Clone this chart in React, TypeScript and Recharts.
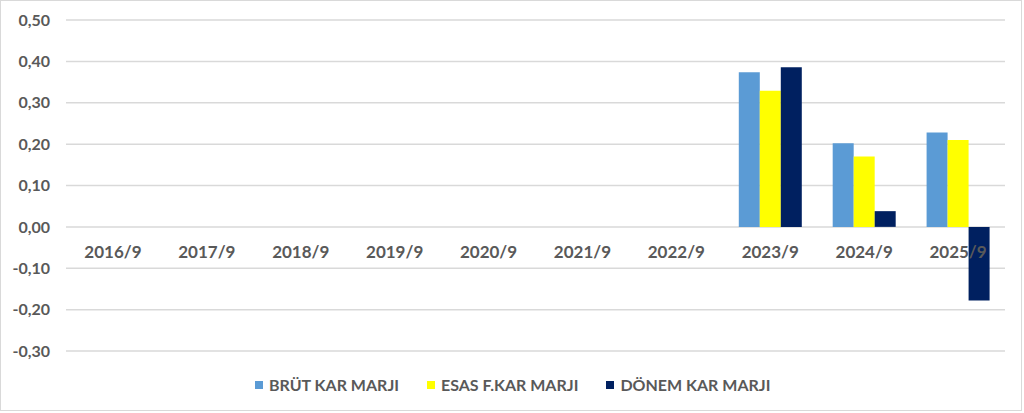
import { Bar, BarChart, CartesianGrid, Legend, XAxis, YAxis } from "recharts";

const periods = ["2016/9", "2017/9", "2018/9", "2019/9", "2020/9", "2021/9", "2022/9", "2023/9", "2024/9", "2025/9"];
const brutKar = [null, null, null, null, null, null, null, 0.374, 0.202, 0.228];
const esasKar = [null, null, null, null, null, null, null, 0.329, 0.17, 0.21];
const donemKar = [null, null, null, null, null, null, null, 0.386, 0.038, -0.178];
const yTicks = [-0.3, -0.2, -0.1, 0, 0.1, 0.2, 0.3, 0.4, 0.5];

const series = [
  { key: "brut", name: "BRÜT KAR MARJI", color: "#5B9BD5" },
  { key: "esas", name: "ESAS F.KAR MARJI", color: "#FFFF00" },
  { key: "donem", name: "DÖNEM KAR MARJI", color: "#002060" },
];

const data = periods.map((p, i) => ({ name: p, brut: brutKar[i], esas: esasKar[i], donem: donemKar[i] }));

const W = 1020;
const H = 409;
const TOP = 19;
const BOTTOM = 58;
const XH = 1;
const PLOT_H = H - TOP - BOTTOM - XH;
const ZERO_Y = TOP + (PLOT_H * 0.5) / 0.8;
const FONT = "Lato, 'Open Sans', sans-serif";
const TEXT = "#595959";

function CatTick(props: any) {
  const { x, payload } = props;
  return (
    <text x={x} y={ZERO_Y + 25} dy="0.355em" textAnchor="middle" fill={TEXT} fontSize={17} fontWeight={700} fontFamily={FONT}>
      {payload.value}
    </text>
  );
}

function LegendBox() {
  return (
    <div style={{ display: "flex", alignItems: "center", fontFamily: FONT, fontSize: 16, fontWeight: 700, color: TEXT }}>
      {series.map((s) => (
        <div key={s.key} style={{ display: "flex", alignItems: "center", marginRight: 28 }}>
          <span style={{ display: "inline-block", width: 8, height: 8, background: s.color, marginRight: 6 }} />
          <span>{s.name}</span>
        </div>
      ))}
    </div>
  );
}

export default function App() {
  return (
    <div style={{ position: "absolute", left: 0, top: 0, width: W, height: H, border: "1px solid #d9d9d9", background: "#fff" }}>
      <BarChart width={W} height={H} data={data} margin={{ top: TOP, right: 16, bottom: BOTTOM, left: 0 }} barCategoryGap="16.5%" barGap={0}>
        <CartesianGrid vertical={false} stroke="#d9d9d9" strokeWidth={1.5} />
        <XAxis dataKey="name" height={XH} axisLine={false} tickLine={false} tick={<CatTick />} interval={0} />
        <YAxis
          width={65}
          domain={[-0.3, 0.5]}
          ticks={yTicks}
          interval={0}
          axisLine={false}
          tickLine={false}
          tickSize={0}
          tickMargin={16}
          tickFormatter={(v: number) => v.toFixed(2).replace(".", ",")}
          tick={{ fill: TEXT, fontSize: 16, fontWeight: 700, fontFamily: FONT }}
        />
        <Legend
          verticalAlign="middle"
          content={<LegendBox />}
          wrapperStyle={{ top: 374, left: 254, width: 600, height: 22 }}
        />
        {series.map((s) => (
          <Bar key={s.key} dataKey={s.key} name={s.name} fill={s.color} isAnimationActive={false} />
        ))}
      </BarChart>
    </div>
  );
}
